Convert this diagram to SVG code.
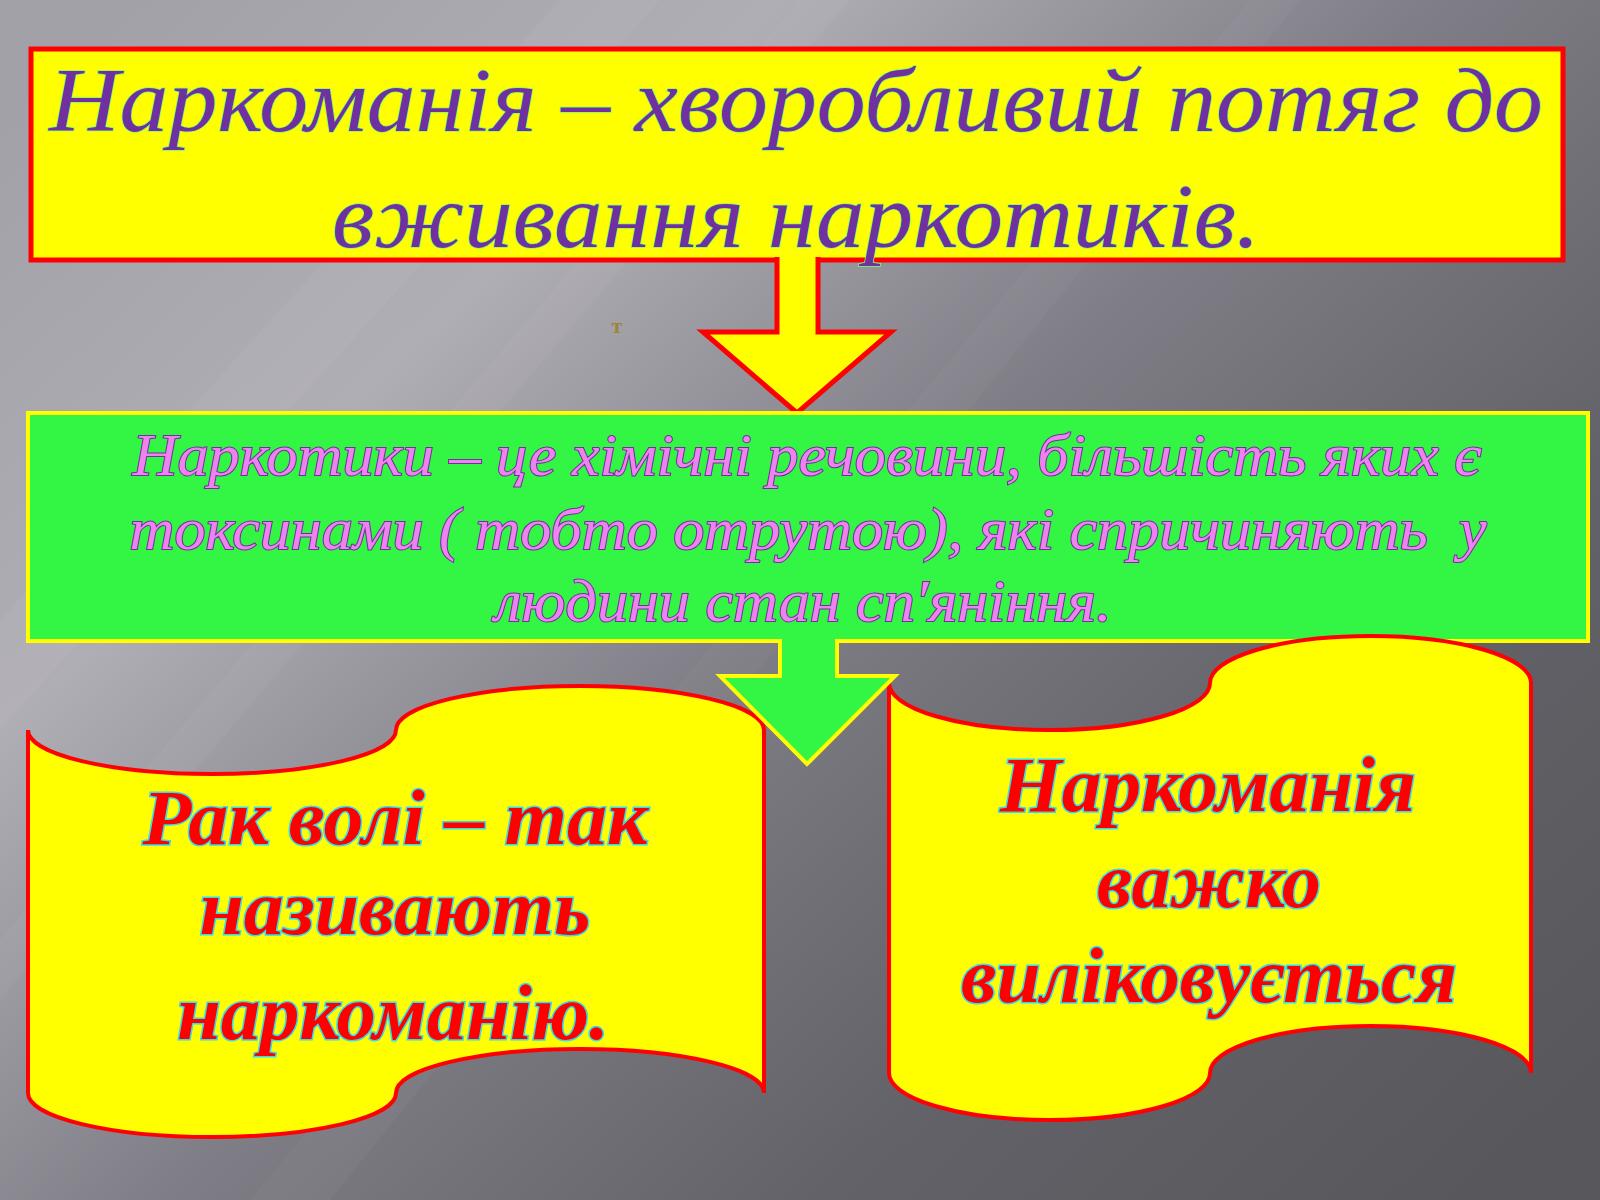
<svg xmlns="http://www.w3.org/2000/svg" width="1600" height="1200" viewBox="0 0 1600 1200">
<defs>
<linearGradient id="bg" x1="0" y1="0.1" x2="1" y2="0.9">
<stop offset="0" stop-color="#a3a1a8"/>
<stop offset="0.25" stop-color="#b0aeb5"/>
<stop offset="0.5" stop-color="#7f7d85"/>
<stop offset="0.75" stop-color="#636268"/>
<stop offset="1" stop-color="#58575c"/>
</linearGradient>
<style>
.box1{fill:#ffff00;stroke:#ff0000;stroke-width:5}
.box2{fill:#33f544;stroke:#ffff00;stroke-width:4}
.scroll{fill:#ffff00;stroke:#ff0000;stroke-width:4}
.t1{font-family:"Liberation Serif","DejaVu Serif",serif;font-style:italic;font-size:90px;fill:#7030a0;stroke:#7cff6a;stroke-width:1.5;paint-order:stroke;text-anchor:middle}
.t2{font-family:"Liberation Serif","DejaVu Serif",serif;font-style:italic;font-size:60px;fill:#ee82ee;stroke:#7030a0;stroke-width:2;paint-order:stroke;text-anchor:middle}
.t3{font-family:"Liberation Serif","DejaVu Serif",serif;font-style:italic;font-weight:bold;font-size:78px;fill:#ff0000;stroke:#33ddee;stroke-width:3;paint-order:stroke;text-anchor:middle}
.a1{fill:#ffff00;stroke:#ff0000;stroke-width:5;stroke-linejoin:miter}
.a2{fill:#33f544;stroke:#ffff00;stroke-width:4;stroke-linejoin:miter}
</style>
</defs>
<rect x="0" y="0" width="1600" height="1200" fill="url(#bg)"/>
<g fill="#ffffff">
<polygon points="0,620 560,0 660,0 0,730" opacity="0.04"/>
<polygon points="0,940 800,0 850,0 0,1000" opacity="0.035"/>
<polygon points="250,1200 1250,0 1300,0 330,1200" opacity="0.03"/>
</g>
<text x="617" y="333" font-family="Liberation Serif, serif" font-size="22" font-weight="bold" fill="#9a8636" text-anchor="middle">т</text>

<g id="node-definition">
<rect class="box1" x="31" y="49" width="1532" height="211"/>
<text class="t1" x="796" y="131" textLength="1494" lengthAdjust="spacingAndGlyphs">Наркоманія – хворобливий потяг до</text>
<text class="t1" x="796" y="247" textLength="928" lengthAdjust="spacingAndGlyphs">вживання наркотиків.</text>
</g>

<g id="connectors">
<path id="arrow-1" class="a1" d="M777,257 L777,332 L703,332 L797,413 L891,332 L818,332 L818,257"/>
</g>

<g id="node-drugs">
<rect class="box2" x="28" y="413" width="1560" height="228"/>
<text class="t2" x="807" y="475" textLength="1349" lengthAdjust="spacingAndGlyphs">Наркотики – це хімічні речовини, більшість яких є</text>
<text class="t2" x="808" y="549" textLength="1357" lengthAdjust="spacingAndGlyphs">токсинами ( тобто отрутою), які спричиняють&#160; у</text>
<text class="t2" x="803" y="621" textLength="617" lengthAdjust="spacingAndGlyphs">людини стан сп′яніння.</text>
</g>

<g id="node-cancer">
<path class="scroll" d="M28,730 A184,44 0 0 0 396,730 A184,44 0 0 1 764,730 L764,1093 A184,44 0 0 0 396,1093 A184,44 0 0 1 28,1093 Z"/>
<text class="t3" x="395" y="844" textLength="505" lengthAdjust="spacingAndGlyphs">Рак волі – так</text>
<text class="t3" x="395" y="934" textLength="391" lengthAdjust="spacingAndGlyphs">називають</text>
<text class="t3" x="393" y="1039" textLength="432" lengthAdjust="spacingAndGlyphs">наркоманію.</text>
</g>

<g id="node-hard">
<path class="scroll" d="M889,683 A160.5,47 0 0 0 1210,683 A160.5,47 0 0 1 1531,683 L1531,1073 A160.5,47 0 0 0 1210,1073 A160.5,47 0 0 1 889,1073 Z"/>
<text class="t3" x="1208" y="811" textLength="416" lengthAdjust="spacingAndGlyphs">Наркоманія</text>
<text class="t3" x="1209" y="907" textLength="224" lengthAdjust="spacingAndGlyphs">важко</text>
<text class="t3" x="1209" y="1002" textLength="496" lengthAdjust="spacingAndGlyphs">виліковується</text>
</g>

<g id="connectors-2">
<path id="arrow-2" class="a2" d="M780,639 L780,676 L720,676 L807,764 L895,676 L837,676 L837,639"/>
</g>
</svg>
